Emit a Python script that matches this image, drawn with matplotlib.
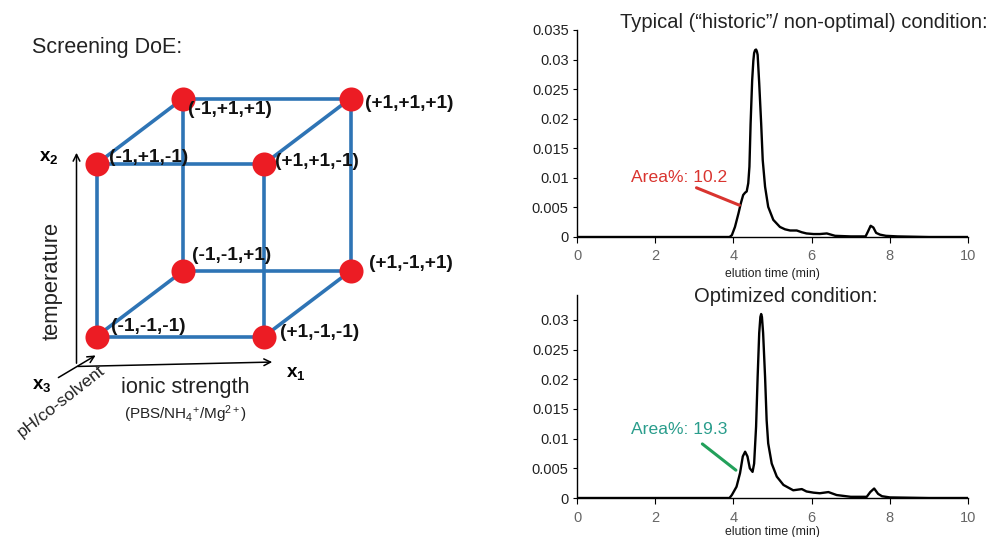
import numpy as np
import matplotlib
matplotlib.use("Agg")
import matplotlib.pyplot as plt

plt.rcParams['font.family'] = ['Liberation Sans', 'DejaVu Sans']
plt.rcParams['mathtext.fontset'] = 'custom'
plt.rcParams['mathtext.rm'] = 'Liberation Sans'
plt.rcParams['mathtext.bf'] = 'Liberation Sans:bold'
plt.rcParams['mathtext.it'] = 'Liberation Sans:italic'

# ---------------- data ----------------
# screening DoE cube: coded levels (x1, x2, x3)
cube_levels = [(-1, -1, -1), (1, -1, -1), (-1, 1, -1), (1, 1, -1),
               (-1, -1, 1), (1, -1, 1), (-1, 1, 1), (1, 1, 1)]
cube_labels = ["(-1,-1,-1)", "(+1,-1,-1)", "(-1,+1,-1)", "(+1,+1,-1)",
               "(-1,-1,+1)", "(+1,-1,+1)", "(-1,+1,+1)", "(+1,+1,+1)"]

# chromatogram, typical condition
t_typ = [0, 1, 2, 3, 3.9, 3.96, 4.04, 4.13, 4.19, 4.25, 4.30, 4.34, 4.38, 4.41,
         4.44, 4.48, 4.51, 4.53, 4.555, 4.58, 4.60, 4.62, 4.66, 4.71, 4.75, 4.81,
         4.89, 5.02, 5.19, 5.32, 5.45, 5.62, 5.75, 5.87, 6.05, 6.21, 6.39, 6.6,
         7.0, 7.38, 7.44, 7.51, 7.58, 7.65, 7.75, 7.9, 8.2, 9, 10]
y_typ = [0, 0, 0, 0, 0, 0.0003, 0.0017, 0.0040, 0.0057, 0.0071, 0.0075, 0.0077,
         0.0091, 0.0119, 0.0192, 0.0265, 0.0298, 0.0311, 0.0316, 0.0317, 0.0314,
         0.0308, 0.0260, 0.0192, 0.0130, 0.0085, 0.0051, 0.0029, 0.0017, 0.0013,
         0.0011, 0.0011, 0.0008, 0.0006, 0.0005, 0.0005, 0.0006, 0.0002,
         0.0001, 0.0001, 0.0009, 0.0019, 0.0016, 0.0007, 0.0004, 0.0002, 0.0001,
         0, 0]

# chromatogram, optimized condition
t_opt = [0, 1, 2, 3, 3.9, 3.96, 4.08, 4.17, 4.24, 4.30, 4.36, 4.42, 4.49, 4.53,
         4.58, 4.62, 4.66, 4.69, 4.71, 4.73, 4.76, 4.81, 4.85, 4.89, 4.98, 5.11,
         5.28, 5.53, 5.75, 5.87, 6.05, 6.21, 6.43, 6.64, 7.0, 7.41, 7.5, 7.6,
         7.7, 7.8, 8.0, 9, 10]
y_opt = [0, 0, 0, 0, 0, 0.0005, 0.0019, 0.0042, 0.0070, 0.0078, 0.0070, 0.0050,
         0.0044, 0.0058, 0.0120, 0.0204, 0.0278, 0.0305, 0.0310, 0.0305, 0.0278,
         0.0204, 0.0131, 0.0092, 0.0058, 0.0036, 0.0022, 0.0013, 0.0015, 0.0011,
         0.0009, 0.0008, 0.0010, 0.0005, 0.0002, 0.0002, 0.0010, 0.0016, 0.0007,
         0.0003, 0.0001, 0, 0]

x_ticks = [0, 2, 4, 6, 8, 10]
y_ticks_top = [0, 0.005, 0.01, 0.015, 0.02, 0.025, 0.03, 0.035]
y_labels_top = ["0", "0.005", "0.01", "0.015", "0.02", "0.025", "0.03", "0.035"]
y_ticks_bot = [0, 0.005, 0.01, 0.015, 0.02, 0.025, 0.03]
y_labels_bot = ["0", "0.005", "0.01", "0.015", "0.02", "0.025", "0.03"]

area_typ = "Area%: 10.2"
area_opt = "Area%: 19.3"

# ---------------- figure ----------------
W, H = 990, 537
fig = plt.figure(figsize=(W / 100, H / 100), dpi=100)
fig.patch.set_facecolor('white')

# left panel drawn in pixel coordinates
ax0 = fig.add_axes([0, 0, 1, 1])
ax0.set_xlim(0, W)
ax0.set_ylim(H, 0)
ax0.axis('off')

origin = np.array([96.5, 336.5])
e1 = np.array([167.5, 0.0])
e2 = np.array([0.0, -172.5])
e3 = np.array([86.5, -65.5])


def proj(lv):
    a, b, c = lv
    return origin + (a + 1) / 2 * e1 + (b + 1) / 2 * e2 + (c + 1) / 2 * e3


pts = [proj(lv) for lv in cube_levels]
blue = '#2E74B5'
for i in range(8):
    for j in range(i + 1, 8):
        diff = sum(1 for k in range(3) if cube_levels[i][k] != cube_levels[j][k])
        if diff == 1:
            ax0.plot([pts[i][0], pts[j][0]], [pts[i][1], pts[j][1]],
                     color=blue, lw=2.6, solid_capstyle='butt', zorder=2)
px = [p[0] for p in pts]
py = [p[1] for p in pts]
ax0.scatter(px, py, s=300, color='#EC1C24', zorder=3, linewidths=0)

label_off = {
    "(-1,-1,-1)": (15, -10), "(+1,-1,-1)": (16, -4),
    "(-1,+1,-1)": (13, -7), "(+1,+1,-1)": (11, -2),
    "(-1,-1,+1)": (9, -16), "(+1,-1,+1)": (18, -8),
    "(-1,+1,+1)": (5, 11), "(+1,+1,+1)": (14, 5),
}
for p, lab in zip(pts, cube_labels):
    dx, dy = label_off[lab]
    ax0.text(p[0] + dx, p[1] + dy, lab, fontsize=13.7, fontweight='bold',
             ha='left', va='center', color='#111111', zorder=4)

# axis arrows of the design space
arrow_kw = dict(arrowstyle='->', color='black', lw=1.1, mutation_scale=12)
ax0.annotate('', xy=(76.5, 150), xytext=(76.5, 366), arrowprops=arrow_kw)
ax0.annotate('', xy=(275, 362), xytext=(75, 366.5), arrowprops=arrow_kw)
ax0.annotate('', xy=(98, 354), xytext=(56, 379), arrowprops=arrow_kw)

ax0.text(49, 157, r'$\mathbf{x_2}$', fontsize=13.5, ha='center', va='center')
ax0.text(296, 373, r'$\mathbf{x_1}$', fontsize=13.5, ha='center', va='center')
ax0.text(42, 386, r'$\mathbf{x_3}$', fontsize=13.5, ha='center', va='center')
ax0.text(52, 281, 'temperature', fontsize=15.8, rotation=90, ha='center',
         va='center', color='#222222')
ax0.text(185, 388, 'ionic strength', fontsize=15.6, ha='center', va='center',
         color='#222222')
ax0.text(185, 414, r'(PBS/NH$_4$$^{+}$/Mg$^{2+}$)', fontsize=11, ha='center',
         va='center', color='#222222')
ax0.text(61, 401, 'pH/co-solvent', fontsize=12.5, rotation=38, ha='center',
         va='center', color='#222222', rotation_mode='anchor')
ax0.text(32, 47, 'Screening DoE:', fontsize=15.5, ha='left', va='center',
         color='#222222')

# right panels
L = 577 / W
Wd = (968 - 577) / W
ax1 = fig.add_axes([L, 1 - 237 / H, Wd, (237 - 30) / H])
ax2 = fig.add_axes([L, 1 - 498 / H, Wd, (498 - 295) / H])

for ax, t, y, yt, yl, ytop, lp in [
        (ax1, t_typ, y_typ, y_ticks_top, y_labels_top, 0.035, 3),
        (ax2, t_opt, y_opt, y_ticks_bot, y_labels_bot, 0.0342, 1)]:
    ax.plot(t, y, color='black', lw=1.7, solid_joinstyle='round')
    ax.set_xlim(0, 10)
    ax.set_ylim(0, ytop)
    ax.set_xticks(x_ticks)
    ax.set_xticklabels([str(v) for v in x_ticks])
    ax.set_yticks(yt)
    ax.set_yticklabels(yl)
    ax.spines['top'].set_visible(False)
    ax.spines['right'].set_visible(False)
    ax.spines['left'].set_linewidth(1.0)
    ax.spines['bottom'].set_linewidth(1.0)
    ax.tick_params(axis='y', labelsize=10.5, length=3, width=0.8, pad=3,
                   labelcolor='#222222')
    ax.tick_params(axis='x', labelsize=10.5, length=4, width=0.8, pad=5,
                   labelcolor='#666666')
    ax.set_xlabel('elution time (min)', fontsize=8.8, color='#222222', labelpad=lp)
    ax.patch.set_alpha(0)

fig.text(988 / W, 1 - 22 / H, u'Typical (\u201chistoric\u201d/ non-optimal) condition:',
         fontsize=14.5, ha='right', va='center', color='#222222')
fig.text(786 / W, 1 - 297 / H, 'Optimized condition:', fontsize=14.6,
         ha='center', va='center', color='#222222')

red = '#D9342F'
ax1.text(2.61, 0.0100, area_typ, color=red, fontsize=12.6, ha='center', va='center')
ax1.annotate('', xy=(4.22, 0.0052), xytext=(2.99, 0.0085),
             arrowprops=dict(arrowstyle='-', color=red, lw=2.2))

teal = '#2A9D8C'
ax2.text(2.61, 0.0116, area_opt, color=teal, fontsize=12.6, ha='center', va='center')
ax2.annotate('', xy=(4.12, 0.0044), xytext=(3.15, 0.0094),
             arrowprops=dict(arrowstyle='-', color='#22A05A', lw=2.2))

fig.savefig('out.png', dpi=100, facecolor='white')
